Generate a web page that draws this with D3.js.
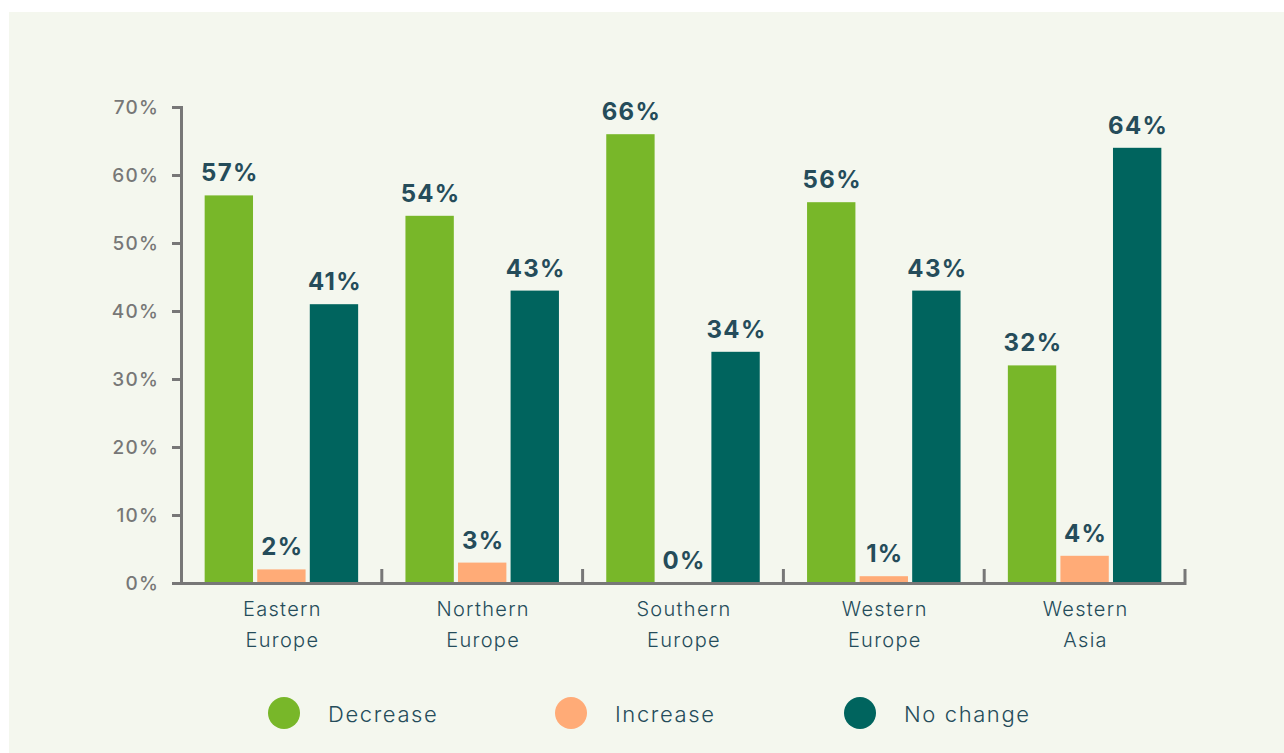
<!DOCTYPE html>
<html>
<head>
<meta charset="utf-8">
<script src="https://cdn.jsdelivr.net/npm/d3@7"></script>
<style>
  body { margin: 0; background: #fff; }
  svg { display: block; }
</style>
</head>
<body>
<div id="chart"></div>
<script>
const regions = [['Eastern', 'Europe'], ['Northern', 'Europe'], ['Southern', 'Europe'], ['Western', 'Europe'], ['Western', 'Asia']];
const seriesNames = ['Decrease', 'Increase', 'No change'];
const decrease = [57, 54, 66, 56, 32];
const increase = [2, 3, 0, 1, 4];
const noChange = [41, 43, 34, 43, 64];
const yTicks = [0, 10, 20, 30, 40, 50, 60, 70];

const width = 1284;
const height = 753;
const colors = ['#78b729', '#ffab77', '#00645e'];
const labelColor = '#254c5a';
const axisColor = '#777777';
const font = 'Inter, "Open Sans", sans-serif';

const rows = regions.map((r, i) => ({
  key: r.join(' '),
  lines: r,
  values: [decrease[i], increase[i], noChange[i]]
}));

const svg = d3.select('#chart').append('svg')
  .attr('width', width)
  .attr('height', height);

svg.append('rect')
  .attr('x', 9).attr('y', 12)
  .attr('width', width - 9).attr('height', height - 12)
  .attr('fill', '#f4f7ee');

const plotLeft = 181;
const plotRight = 1185;
const y = d3.scaleLinear().domain([0, 70]).range([583, 107]);

const x0 = d3.scaleBand()
  .domain(rows.map(d => d.key))
  .range([plotLeft, plotRight])
  .padding(0);

const x1 = d3.scaleBand()
  .domain(seriesNames)
  .range([0, x0.bandwidth()])
  .paddingInner(0.08)
  .paddingOuter(0.45);

// y axis
const yAxis = d3.axisLeft(y)
  .tickValues(yTicks)
  .tickSize(9)
  .tickPadding(13)
  .tickFormat(v => v + '%');

const yg = svg.append('g')
  .attr('transform', `translate(${plotLeft},0)`)
  .call(yAxis);
yg.select('.domain').attr('stroke', axisColor).attr('stroke-width', 3);
yg.selectAll('.tick line').attr('stroke', axisColor).attr('stroke-width', 3);
yg.selectAll('.tick text')
  .attr('fill', axisColor)
  .style('font-family', font)
  .style('font-weight', 500)
  .style('font-size', '19px')
  .style('letter-spacing', '1.2px');

// bars
const groups = svg.selectAll('.group')
  .data(rows)
  .enter().append('g')
    .attr('class', 'group')
    .attr('transform', d => `translate(${x0(d.key)},0)`);

groups.selectAll('rect')
  .data(d => d.values.map((v, i) => ({ name: seriesNames[i], value: v, i: i })))
  .enter().append('rect')
    .attr('x', d => x1(d.name))
    .attr('width', x1.bandwidth())
    .attr('y', d => y(d.value))
    .attr('height', d => y(0) - y(d.value))
    .attr('fill', d => colors[d.i]);

groups.selectAll('.val')
  .data(d => d.values.map((v, i) => ({ name: seriesNames[i], value: v })))
  .enter().append('text')
    .attr('class', 'val')
    .attr('x', d => x1(d.name) + x1.bandwidth() / 2 + 1)
    .attr('y', d => y(d.value) - 14)
    .attr('text-anchor', 'middle')
    .attr('fill', labelColor)
    .style('font-family', font)
    .style('font-weight', 700)
    .style('font-size', '24px')
    .style('letter-spacing', '1.3px')
    .text(d => d.value + '%');

// x axis line and group separators
svg.append('line')
  .attr('x1', plotLeft).attr('x2', plotRight)
  .attr('y1', y(0) + 0.5).attr('y2', y(0) + 0.5)
  .attr('stroke', axisColor).attr('stroke-width', 3);

const seps = rows.slice(1).map(d => x0(d.key)).concat([plotRight]);
svg.selectAll('.sep')
  .data(seps)
  .enter().append('line')
    .attr('class', 'sep')
    .attr('x1', d => d).attr('x2', d => d)
    .attr('y1', y(0) + 2).attr('y2', y(0) - 14)
    .attr('stroke', axisColor).attr('stroke-width', 3);

// category labels
const cat = svg.selectAll('.cat')
  .data(rows)
  .enter().append('text')
    .attr('class', 'cat')
    .attr('text-anchor', 'middle')
    .attr('fill', labelColor)
    .style('font-family', font)
    .style('font-weight', 300)
    .style('font-size', '20px')
    .style('letter-spacing', '1.3px');

cat.selectAll('tspan')
  .data(d => d.lines.map(l => ({ l: l, cx: x0(d.key) + x0.bandwidth() / 2 + 1 })))
  .enter().append('tspan')
    .attr('x', d => d.cx)
    .attr('y', (d, i) => 616 + i * 31)
    .text(d => d.l);

// legend
const legendX = [284, 571, 860];
const legend = svg.selectAll('.legend')
  .data(seriesNames)
  .enter().append('g')
    .attr('class', 'legend')
    .attr('transform', (d, i) => `translate(${legendX[i]},713)`);

legend.append('circle')
  .attr('r', 16)
  .attr('fill', (d, i) => colors[i]);

legend.append('text')
  .attr('x', 44)
  .attr('y', 9)
  .attr('fill', labelColor)
  .style('font-family', font)
  .style('font-weight', 300)
  .style('font-size', '22px')
  .style('letter-spacing', '1.6px')
  .text(d => d);
</script>
</body>
</html>
